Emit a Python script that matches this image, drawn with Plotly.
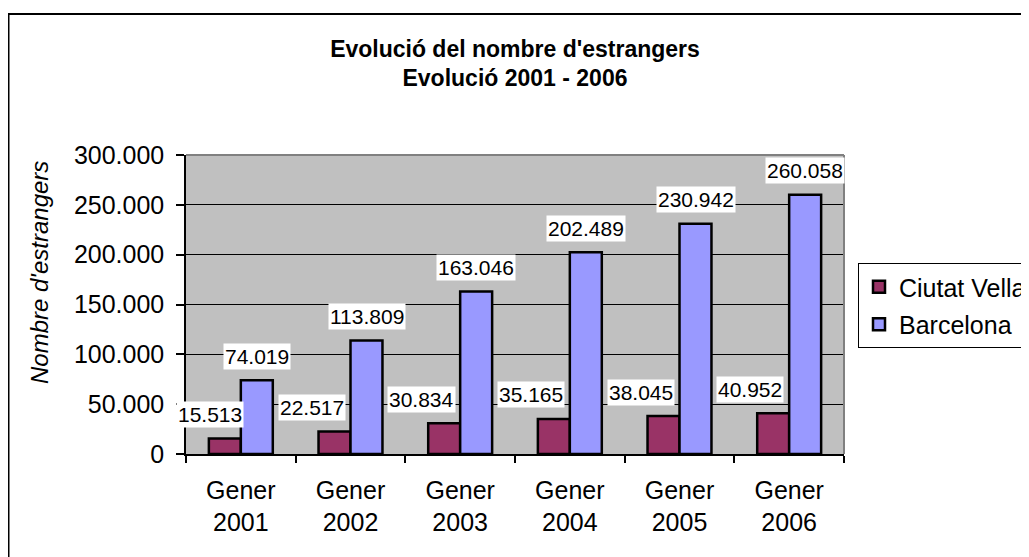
import plotly.graph_objects as go

categories = ["Gener<br>2001", "Gener<br>2002", "Gener<br>2003",
              "Gener<br>2004", "Gener<br>2005", "Gener<br>2006"]
ciutat_vella = [15513, 22517, 30834, 35165, 38045, 40952]
barcelona = [74019, 113809, 163046, 202489, 230942, 260058]

FONT = "Liberation Sans, Arial, sans-serif"
OFF = 8  # page body margin, the figure sits 8px in from the window corner
W, H = 1029 - OFF, 557 - OFF
ML, MT = 186 - OFF, 155 - OFF
PW, PH = 658, 299
MR, MB = W - ML - PW, H - MT - PH


def px_x(p):
    # window pixel -> paper x
    return (p - OFF - ML) / PW


def px_y(p):
    return (MT + PH - (p - OFF)) / PH


def fmt(v):
    return f"{v:,}".replace(",", ".")


fig = go.Figure()
fig.add_trace(go.Bar(x=categories, y=ciutat_vella, name="Ciutat Vella", legendgroup="cv",
                     marker=dict(color="#993366", line=dict(color="black", width=2.5))))
fig.add_trace(go.Bar(x=categories, y=barcelona, name="Barcelona", legendgroup="bcn",
                     marker=dict(color="#9999FF", line=dict(color="black", width=2.5))))

# data labels, Excel style with white box
cv_dx = [-31, -39, -39, -39, -39, -39]
annotations = []
for i, (c, v) in enumerate(zip(categories, ciutat_vella)):
    annotations.append(dict(x=c, y=v, xref="x", yref="y", text=fmt(v), showarrow=False,
                            xshift=cv_dx[i], yshift=24, bgcolor="white", borderpad=1,
                            font=dict(family=FONT, size=21, color="black")))
for c, v in zip(categories, barcelona):
    annotations.append(dict(x=c, y=v, xref="x", yref="y", text=fmt(v), showarrow=False,
                            xshift=16, yshift=24, bgcolor="white", borderpad=1,
                            font=dict(family=FONT, size=21, color="black")))

# y axis title (placed higher than plot centre, as in the original)
annotations.append(dict(x=px_x(39), y=px_y(273), xref="paper", yref="paper",
                        xanchor="center", yanchor="middle",
                        text="<i>Nombre d'estrangers</i>", textangle=-90, showarrow=False,
                        font=dict(family=FONT, size=24, color="black")))

shapes = [
    # outer chart frame (runs off the right/bottom of the picture)
    dict(type="rect", xref="paper", yref="paper", x0=px_x(8.5), x1=px_x(1080),
         y0=px_y(620), y1=px_y(14), line=dict(color="black", width=2)),
    # grey top/right border of plot area
    dict(type="line", xref="paper", yref="paper", x0=0, x1=1, y0=1, y1=1,
         line=dict(color="#808080", width=2)),
    dict(type="line", xref="paper", yref="paper", x0=1, x1=1, y0=0, y1=1,
         line=dict(color="#808080", width=2)),
]

fig.update_layout(
    width=W, height=H,
    margin=dict(l=ML, r=MR, t=MT, b=MB, autoexpand=False),
    paper_bgcolor="white", plot_bgcolor="#C0C0C0",
    separators=",.",
    barmode="group", bargap=0.417, bargroupgap=0,
    font=dict(family=FONT, size=25, color="black"),
    title=dict(text="Evolució del nombre d'estrangers<br>Evolució 2001 - 2006",
               x=0.5, xref="paper", xanchor="center", y=1 - 48.5 / H, yanchor="middle",
               font=dict(family=FONT, size=23, color="black", weight="bold")),
    legend=dict(x=px_x(858), y=px_y(263), xanchor="left", yanchor="top",
                traceorder="grouped", tracegroupgap=2,
                bgcolor="white", bordercolor="black", borderwidth=1,
                font=dict(family=FONT, size=25, color="black")),
    annotations=annotations,
    shapes=shapes,
)
fig.update_xaxes(range=[-0.5, len(categories) - 0.5], showline=True, linecolor="black",
                 linewidth=1.5, ticks="outside", tickson="boundaries", ticklen=7,
                 tickcolor="black", tickwidth=1.5, showgrid=False, ticklabelstandoff=13)
fig.update_yaxes(range=[0, 300000], dtick=50000, tickformat=",d", showline=True,
                 linecolor="black", linewidth=1.5, ticks="outside", ticklen=8,
                 tickcolor="black", tickwidth=1.5, showgrid=True, gridcolor="black",
                 gridwidth=1, zeroline=False, ticklabelstandoff=7)

fig.write_html("out.html")
